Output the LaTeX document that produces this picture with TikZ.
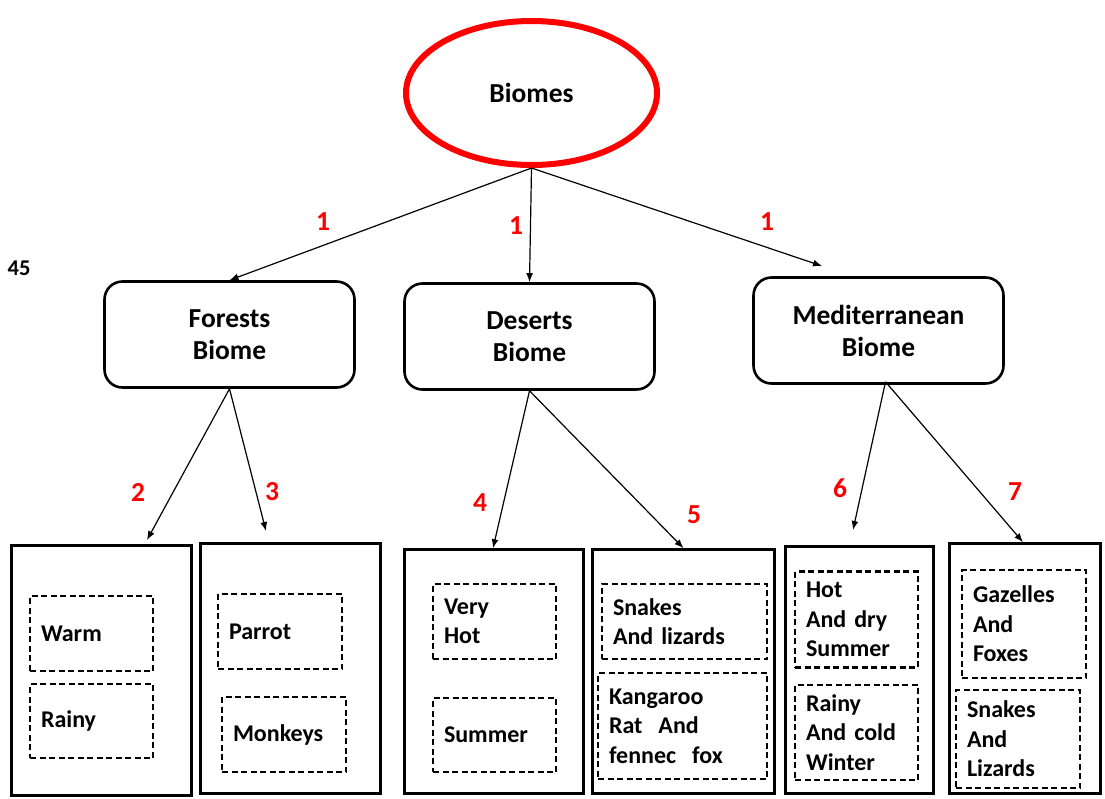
\documentclass[tikz,border=0pt]{standalone}
\usepackage{fontspec}
\setmainfont{Carlito}[WordSpace=0.85]
\usetikzlibrary{arrows.meta,shapes.geometric,calc}
\begin{document}
\begin{tikzpicture}[x=1pt,y=-1pt,
  bigfont/.style={font=\fontsize{27.5}{32}\selectfont\bfseries},
  smallfont/.style={font=\fontsize{24}{29.5}\selectfont\bfseries},
  rootnode/.style={ellipse, draw=red, line width=6pt, minimum width=251pt,
    minimum height=144pt, inner sep=0pt, bigfont},
  biomebox/.style={draw, rounded corners=18pt, line width=2.6pt,
    minimum width=250pt, minimum height=106pt, align=center, bigfont},
  groupbox/.style={draw, line width=2.6pt, inner sep=0pt},
  itembox/.style={draw, dashed, dash pattern=on 6pt off 3.5pt, line width=2.6pt,
    align=left, inner xsep=11pt, inner ysep=0pt, smallfont},
  stepnum/.style={text=red, font=\fontsize{27.5}{32}\selectfont\bfseries, inner sep=0pt},
  conn/.style={-{Latex[length=9pt,width=7pt]}, line width=1.2pt}
]
\useasboundingbox (0,0) rectangle (1105,798);

% root
\node[rootnode] (root) at (531.5,93) {Biomes};
\node[font=\fontsize{22.5}{26}\selectfont\bfseries, inner sep=0pt] (pagenum) at (19,268) {45};

% biome boxes
\node[biomebox] (forests) at (229.5,334.5) {Forests\\Biome};
\node[biomebox] (deserts) at (529.5,336.5) {Deserts\\Biome};
\node[biomebox] (med) at (878.5,330.5) {Mediterranean\\Biome};

% group boxes
\node[groupbox, minimum width=180pt, minimum height=250pt] (ga) at (101.5,670.5) {};
\node[groupbox, minimum width=180pt, minimum height=250pt] (gb) at (290.5,668.5) {};
\node[groupbox, minimum width=179pt, minimum height=244pt] (gc) at (494,671.5) {};
\node[groupbox, minimum width=182pt, minimum height=244pt] (gd) at (683.5,671.5) {};
\node[groupbox, minimum width=148pt, minimum height=247pt] (ge) at (859.5,670) {};
\node[groupbox, minimum width=151pt, minimum height=250pt] (gf) at (1025,668.5) {};

% items
\node[itembox, text width=101pt, minimum height=75pt] (a1) at (91.5,633.5) {Warm};
\node[itembox, text width=101pt, minimum height=74pt] (a2) at (91.5,721) {Rainy};
\node[itembox, text width=102pt, minimum height=75pt] (b1) at (280,631.5) {Parrot};
\node[itembox, text width=102pt, minimum height=75pt] (b2) at (284,734.5) {Monkeys};
\node[itembox, text width=101pt, minimum height=75pt] (c1) at (494.5,621.5) {Very\\Hot};
\node[itembox, text width=101pt, minimum height=74pt] (c2) at (494.5,735) {Summer};
\node[itembox, text width=143pt, minimum height=75pt] (d1) at (684.5,621.5) {Snakes\\And lizards};
\node[itembox, text width=147pt, minimum height=106pt] (d2) at (682.5,726) {Kangaroo\\Rat\ \ And\\fennec\ \ fox};
\node[itembox, text width=101pt, minimum height=96pt] (e1) at (856.5,619.5) {Hot\\And dry\\Summer};
\node[itembox, text width=101pt, minimum height=95pt] (e2) at (856.5,732.5) {Rainy\\And cold\\Winter};
\node[itembox, text width=102pt, minimum height=108pt] (f1) at (1024,624) {Gazelles\\And\\Foxes};
\node[itembox, text width=102pt, minimum height=98pt] (f2) at (1018,739) {Snakes\\And\\Lizards};

% arrow ends that stop short of a box
\coordinate (tipmed) at (822,266);
\coordinate (tipa) at (147,540);
\coordinate (tipb) at (266,531);
\coordinate (tipe) at (853,530);
\coordinate (medfoot) at ($(med.south)+(7,-3)$);

% connectors
\draw[conn] (root.south) -- (forests.north);
\draw[conn] (root.south) -- (deserts.north);
\draw[conn] (root.south) -- (tipmed);
\draw[conn] (forests.south) -- (tipa);
\draw[conn] (forests.south) -- (tipb);
\draw[conn] (deserts.south) -- ($(gc.north)+(-1,0)$);
\draw[conn] (deserts.south) -- (gd.north);
\draw[conn] (medfoot) -- (tipe);
\draw[conn] (medfoot) -- ($(gf.north)+(-2,0)$);

% step numbers
\node[stepnum] (n1a) at (323,222) {1};
\node[stepnum] (n1b) at (516,226) {1};
\node[stepnum] (n1c) at (767,222) {1};
\node[stepnum] (n2) at (138,492) {2};
\node[stepnum] (n3) at (272,492) {3};
\node[stepnum] (n4) at (480,503) {4};
\node[stepnum] (n5) at (694,515) {5};
\node[stepnum] (n6) at (840,488) {6};
\node[stepnum] (n7) at (1015,492) {7};
\end{tikzpicture}
\end{document}
